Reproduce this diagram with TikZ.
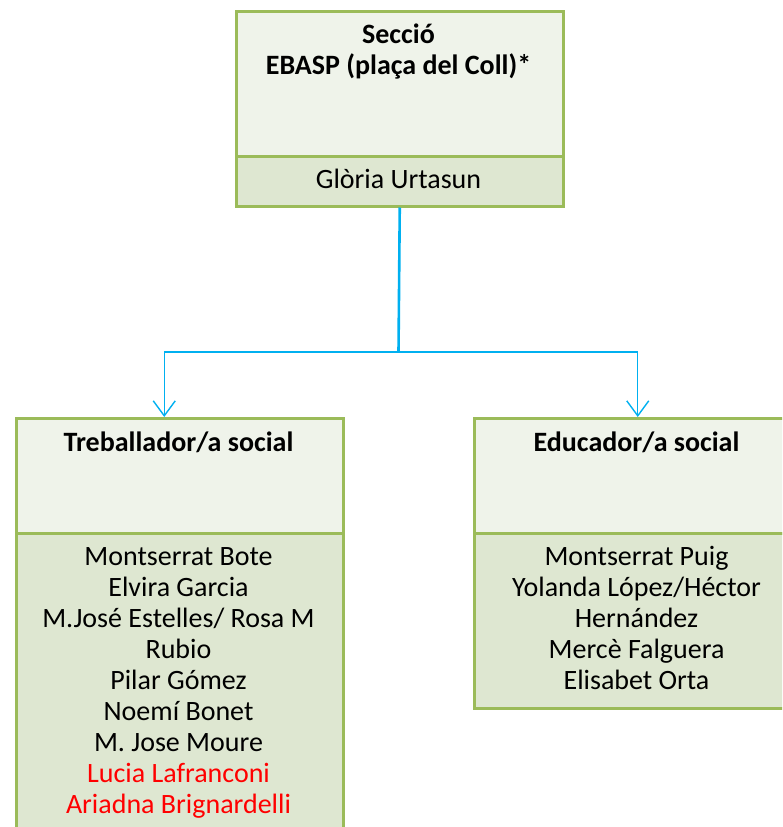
\documentclass[tikz,border=0pt]{standalone}
\usepackage{fontspec}
\setmainfont{Carlito}
\usepackage{tikz}
\usepackage{xcolor}
\usetikzlibrary{arrows.meta,positioning}
\definecolor{Org_Green}{HTML}{9BBB59}
\definecolor{Org_Light}{HTML}{EFF3EA}
\definecolor{Org_Body}{HTML}{DEE7D1}
\definecolor{Org_Blue}{HTML}{00B0F0}
\definecolor{Org_Red}{HTML}{FF0000}

\begin{document}
\begin{tikzpicture}[x=1pt, y=-1pt,
    hdrbox/.style={draw=Org_Green, fill=Org_Light, line width=2.5pt, inner sep=0pt,
        minimum width=327pt, anchor=north west},
    bodybox/.style={draw=Org_Green, fill=Org_Body, line width=2.5pt, inner sep=0pt,
        minimum width=327pt, anchor=north west},
    names/.style={font=\fontsize{28}{31}\selectfont, align=center, inner sep=0pt},
    titles/.style={names, font=\fontsize{28}{31}\selectfont\bfseries},
    stem/.style={draw=Org_Blue, line width=2.6pt},
    branch/.style={draw=Org_Blue, line width=1.4pt, -{Straight Barb[length=15pt, width=22pt]}}]
    \useasboundingbox (0,0) rectangle (782,827);
    \clip (0,0) rectangle (782,827);

    % Head box: section
    \node[hdrbox, minimum height=145pt] (sechdr) at (235,10) {};
    \node[bodybox, minimum height=50pt] (secbody) at (235,155) {};
    \node[titles, anchor=north] (sectitle) at (398.5,24) {Secció\\EBASP (plaça del Coll)*};
    \node[names, anchor=base] (secname) at (398.5,188) {Glòria Urtasun};

    % Left box: social workers
    \node[hdrbox, minimum height=115pt] (twhdr) at (15,417) {};
    \node[bodybox, minimum height=320pt] (twbody) at (15,532) {};
    \node[titles, anchor=north] (twtitle) at (178.5,432) {Treballador/a social};
    \node[names, anchor=north] (twnames) at (178.5,547) {Montserrat Bote\\Elvira Garcia\\
        M.José Estelles/ Rosa M\\Rubio\\Pilar Gómez\\Noemí Bonet\\M. Jose Moure\\
        \textcolor{Org_Red}{Lucia Lafranconi}\\\textcolor{Org_Red}{Ariadna Brignardelli}};

    % Right box: social educators
    \node[hdrbox, minimum height=115pt] (eshdr) at (473,417) {};
    \node[bodybox, minimum height=175pt] (esbody) at (473,532) {};
    \node[titles, anchor=north] (estitle) at (636.5,432) {Educador/a social};
    \node[names, anchor=north] (esnames) at (636.5,546) {Montserrat Puig\\
        Yolanda López/Héctor\\Hernández\\Mercè Falguera\\Elisabet Orta};

    % Connectors
    \coordinate (split) at (398.5,352);
    \draw[stem] (secbody.south) -- (split);
    \draw[branch] (split) -| ([xshift=-15.5pt]twhdr.north);
    \draw[branch] (split) -| (eshdr.north);

\end{tikzpicture}
\end{document}
